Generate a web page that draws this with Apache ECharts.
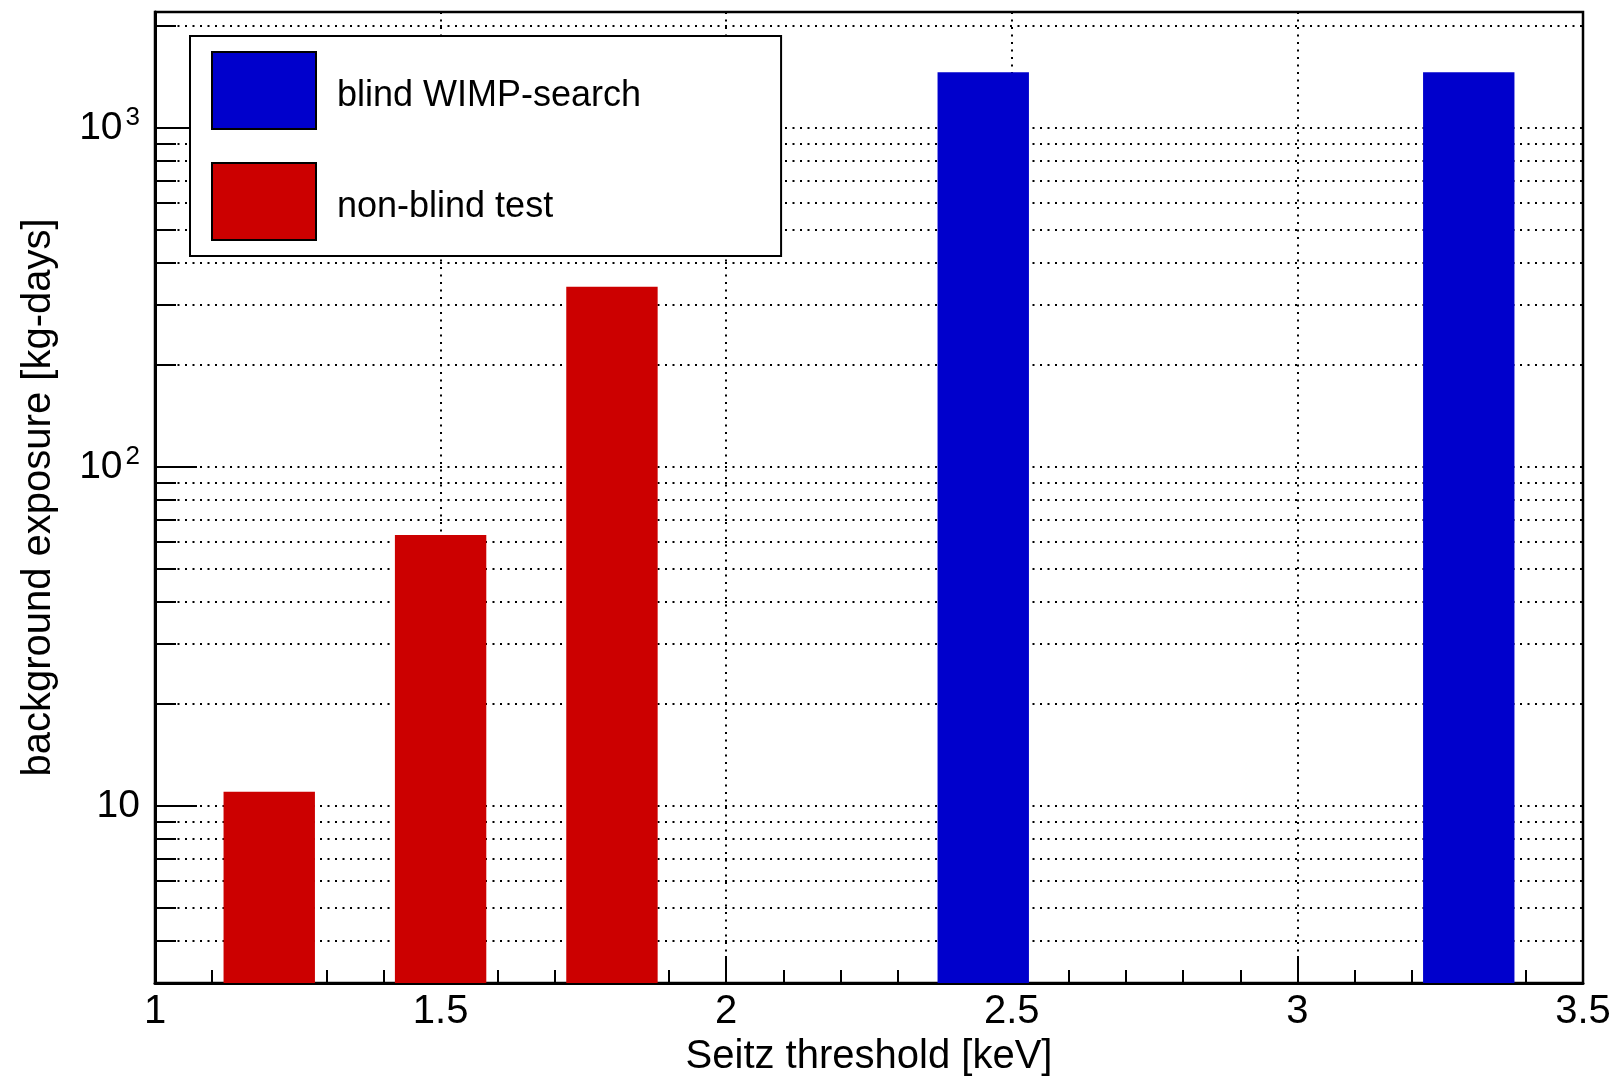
<!DOCTYPE html>
<html>
<head>
<meta charset="utf-8">
<script src="https://cdn.jsdelivr.net/npm/echarts@6/dist/echarts.min.js"></script>
<style>
  html, body { margin: 0; padding: 0; background: #fff; }
  #main { width: 1613px; height: 1077px; }
</style>
</head>
<body>
<div id="main"></div>
<script>
// data
var seriesNames = ['blind WIMP-search', 'non-blind test'];
var blindThreshold = [2.45, 3.3];
var blindExposure = [1460, 1460];
var testThreshold = [1.2, 1.5, 1.8];
var testExposure = [11, 63, 340];

// axis ticks
var yMajorTicks = [10, 100, 1000];
var yMinorTicks = [4, 5, 6, 7, 8, 9, 20, 30, 40, 50, 60, 70, 80, 90,
  200, 300, 400, 500, 600, 700, 800, 900, 2000];

var X_MIN = 1, X_MAX = 3.5;
var Y_MIN = 3, Y_MAX = 2200;
var BAR_WIDTH = 0.16;
var FONT = 'Liberation Sans, Arial, Helvetica, sans-serif';

var dom = document.getElementById('main');
var myChart = echarts.init(dom, null, { renderer: 'canvas' });

function renderBar(params, api) {
  var x = api.value(0);
  var y = api.value(1);
  var topLeft = api.coord([x - BAR_WIDTH / 2, y]);
  var bottomRight = api.coord([x + BAR_WIDTH / 2, Y_MIN]);
  return {
    type: 'rect',
    shape: {
      x: topLeft[0],
      y: topLeft[1],
      width: bottomRight[0] - topLeft[0],
      height: bottomRight[1] - topLeft[1]
    },
    style: api.style()
  };
}

function pairs(xs, ys) {
  return xs.map(function (x, i) { return [x, ys[i]]; });
}

var dotted = { color: '#000', width: 2, type: [2, 5.5] };

var option = {
  animation: false,
  backgroundColor: '#fff',
  textStyle: { fontFamily: FONT },
  grid: {
    left: 155,
    right: 30,
    top: 12,
    bottom: 94,
    show: true,
    borderColor: '#000',
    borderWidth: 2.5,
    backgroundColor: 'transparent',
    outerBoundsMode: 'none'
  },
  legend: {
    orient: 'vertical',
    left: 190,
    top: 36,
    padding: [15, 140, 15, 21],
    itemWidth: 104,
    itemHeight: 77,
    itemGap: 32,
    icon: 'rect',
    backgroundColor: '#fff',
    borderColor: '#000',
    borderWidth: 2,
    itemStyle: { borderColor: '#000', borderWidth: 2 },
    formatter: function (name) { return '{t|' + name + '}'; },
    textStyle: {
      fontSize: 36, color: '#000', fontFamily: FONT,
      rich: { t: { fontSize: 36, color: '#000', fontFamily: FONT, padding: [12, 0, 0, 16] } }
    },
    data: seriesNames
  },
  xAxis: {
    type: 'value',
    min: X_MIN,
    max: X_MAX,
    interval: 0.5,
    name: 'Seitz threshold [keV]',
    nameLocation: 'middle',
    nameGap: 51,
    nameTextStyle: { fontSize: 40, color: '#000', fontFamily: FONT },
    axisLine: { show: true, lineStyle: { color: '#000', width: 3 } },
    axisTick: { show: true, inside: true, length: 27, lineStyle: { color: '#000', width: 2 } },
    minorTick: { show: true, splitNumber: 5, length: 13, lineStyle: { color: '#000', width: 2 } },
    axisLabel: { fontSize: 40, color: '#000', margin: 9, fontFamily: FONT },
    splitLine: { show: true, lineStyle: dotted }
  },
  yAxis: [
    {
      type: 'log',
      min: Y_MIN,
      max: Y_MAX,
      position: 'left',
      name: 'background exposure [kg-days]',
      nameLocation: 'middle',
      nameRotate: 90,
      nameGap: 96,
      nameTextStyle: { fontSize: 40, color: '#000', fontFamily: FONT },
      axisLine: { show: true, lineStyle: { color: '#000', width: 3 } },
      axisTick: { show: true, inside: true, length: 42, customValues: yMajorTicks, lineStyle: { color: '#000', width: 2 } },
      axisLabel: {
        customValues: yMajorTicks,
        margin: 15,
        color: '#000',
        fontSize: 39,
        fontFamily: FONT,
        formatter: function (v) {
          var p = Math.round(Math.log10(v));
          if (p <= 1) return '{b|' + v + '}';
          return '{b|10}{s|' + p + '}';
        },
        rich: {
          b: { fontSize: 39, color: '#000', fontFamily: FONT },
          s: { fontSize: 26, color: '#000', fontFamily: FONT, padding: [0, 0, 20, 3] }
        }
      },
      splitLine: { show: true, lineStyle: dotted }
    },
    {
      type: 'log',
      min: Y_MIN,
      max: Y_MAX,
      position: 'left',
      axisLine: { show: false },
      axisTick: { show: true, inside: true, length: 21, customValues: yMinorTicks, lineStyle: { color: '#000', width: 2 } },
      axisLabel: { show: false, customValues: yMinorTicks },
      splitLine: { show: true, lineStyle: dotted }
    }
  ],
  series: [
    {
      name: seriesNames[0],
      type: 'custom',
      renderItem: renderBar,
      xAxisIndex: 0,
      yAxisIndex: 0,
      encode: { x: 0, y: 1 },
      itemStyle: { color: '#0000cc' },
      z: 3,
      data: pairs(blindThreshold, blindExposure)
    },
    {
      name: seriesNames[1],
      type: 'custom',
      renderItem: renderBar,
      xAxisIndex: 0,
      yAxisIndex: 0,
      encode: { x: 0, y: 1 },
      itemStyle: { color: '#cc0000' },
      z: 3,
      data: pairs(testThreshold, testExposure)
    }
  ]
};

myChart.setOption(option);
</script>
</body>
</html>
